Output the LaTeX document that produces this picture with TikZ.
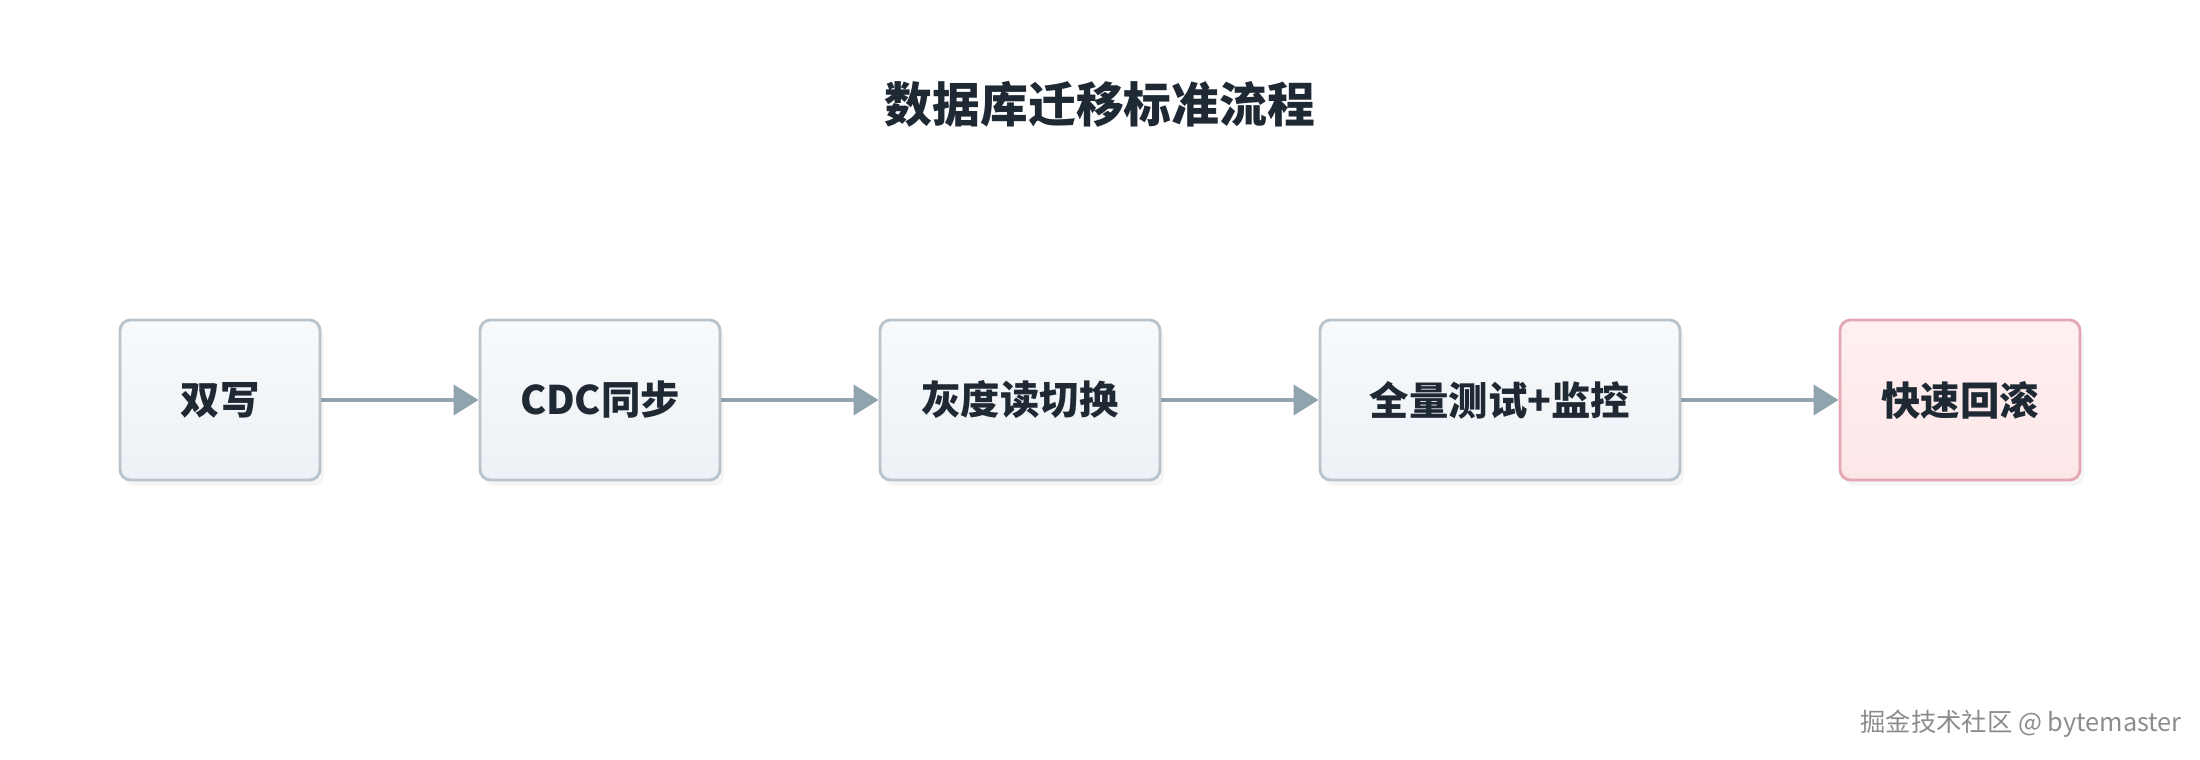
\documentclass[tikz,border=0pt]{standalone}
\usepackage{fontspec}
\setmainfont{Noto Sans CJK SC}
\usepackage{tikz}
\usetikzlibrary{arrows.meta,shadows}

\definecolor{textdark}{HTML}{1F2933}
\definecolor{boxline}{HTML}{B9C3CC}
\definecolor{boxtop}{HTML}{F8FAFC}
\definecolor{boxbot}{HTML}{EDF1F5}
\definecolor{pinkline}{HTML}{E2A7B0}
\definecolor{pinktop}{HTML}{FEF0F1}
\definecolor{pinkbot}{HTML}{FDE6E8}
\definecolor{arrowgray}{HTML}{90A4AE}
\definecolor{markgray}{HTML}{8C8C8C}

\tikzset{
	stepbox/.style={draw=boxline, line width=0.8pt, rounded corners=3pt,
		top color=boxtop, bottom color=boxbot, minimum height=1.6cm,
		text=textdark, font=\fontsize{11.2}{13}\selectfont\bfseries,
		drop shadow={opacity=0.08, shadow xshift=0.04cm, shadow yshift=-0.06cm}},
	rollbox/.style={stepbox, draw=pinkline, top color=pinktop, bottom color=pinkbot},
	flow/.style={arrowgray, line width=1.1pt, -{Triangle[length=2.5mm, width=3mm]}}
}

\begin{document}
\begin{tikzpicture}[>=latex]
		\useasboundingbox (0,0) rectangle (22,7.6);
		% titolo
		\node [text=textdark, font=\fontsize{13.6}{16}\selectfont\bfseries] (title) at (11,6.56) {数据库迁移标准流程};
		% passi
		\node [stepbox, minimum width=2.0cm] (dual) at (2.2,3.6) {双写};
		\node [stepbox, minimum width=2.4cm] (cdc) at (6.0,3.6) {CDC同步};
		\node [stepbox, minimum width=2.8cm] (gray) at (10.2,3.6) {灰度读切换};
		\node [stepbox, minimum width=3.6cm] (test) at (15.0,3.6) {全量测试+监控};
		\node [rollbox, minimum width=2.4cm] (back) at (19.6,3.6) {快速回滚};
		% frecce
		\draw [flow] (dual) -- (cdc);
		\draw [flow] (cdc) -- (gray);
		\draw [flow] (gray) -- (test);
		\draw [flow] (test) -- (back);
		% firma
		\node [anchor=east, text=markgray, font=\fontsize{7.2}{8}\selectfont] (mark) at (21.94,0.36) {掘金技术社区 @ bytemaster};
	\end{tikzpicture}
\end{document}
